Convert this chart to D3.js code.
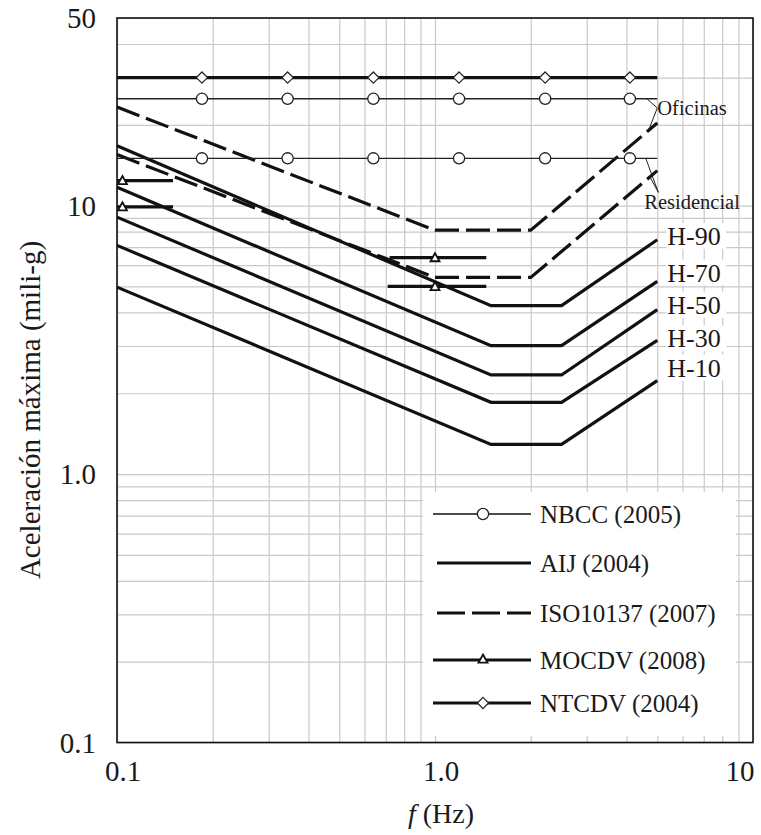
<!DOCTYPE html>
<html>
<head>
<meta charset="utf-8">
<script src="https://cdn.jsdelivr.net/npm/d3@7.9.0/dist/d3.min.js"></script>
<style>
  body { margin: 0; background: #fff; }
  svg { display: block; }
  text { font-family: "Liberation Serif", "Times New Roman", serif; fill: #1a1a1a; }
</style>
</head>
<body>
<svg id="chart" width="761" height="835"></svg>
<script>
// ---- data ----
const xTickValues = [0.1, 1, 10];
const xTickLabels = ['0.1', '1.0', '10'];
const yTickValues = [0.1, 1, 10, 50];
const yTickLabels = ['0.1', '1.0', '10', '50'];

// NBCC (2005)
const nbccFreq = [0.1, 5];
const nbccOficinas = [25, 25];
const nbccResidencial = [15, 15];

// NTCDV (2004)
const ntcdvFreq = [0.1, 5];
const ntcdvAcc = [30, 30];

// markers shared by NBCC / NTCDV
const markerFreq = [0.185, 0.344, 0.64, 1.19, 2.22, 4.1];

// ISO10137 (2007)
const isoFreq = [0.1, 1, 2, 5];
const isoOficinas = [23.3, 8.1, 8.1, 20.3];
const isoResidencial = [15.5, 5.4, 5.4, 13.5];

// AIJ (2004)
const aijLabels = ['H-90', 'H-70', 'H-50', 'H-30', 'H-10'];
const aijFreq = [0.1, 1.5, 2.5, 5];
const aijH90 = [16.7, 4.24, 4.24, 7.46];
const aijH70 = [11.7, 3.01, 3.01, 5.22];
const aijH50 = [9.06, 2.34, 2.34, 4.10];
const aijH30 = [7.11, 1.85, 1.85, 3.15];
const aijH10 = [4.97, 1.29, 1.29, 2.23];

// MOCDV (2008): short horizontal segments
const mocdvFrom = [0.1, 0.1, 0.72, 0.71];
const mocdvTo = [0.15, 0.15, 1.45, 1.45];
const mocdvAcc = [12.4, 9.9, 6.4, 5.0];
const mocdvMark = [0.104, 0.104, 1.0, 1.0];

const legendLabels = ['NBCC (2005)', 'AIJ (2004)', 'ISO10137 (2007)', 'MOCDV (2008)', 'NTCDV (2004)'];

// ---- layout ----
const svg = d3.select('#chart');
const pLeft = 117, pRight = 753, pTop = 18, pBottom = 742.5;

const x = d3.scaleLog().domain([0.1, 10]).range([pLeft, pRight]);
const y = d3.scaleLog().domain([0.1, 50]).range([pBottom, pTop]);

// minor grid values
const gx = [];
[0.1, 1].forEach(d => { for (let k = 1; k <= 9; k++) gx.push(d * k); });
gx.push(10);
const gy = [];
[0.1, 1].forEach(d => { for (let k = 1; k <= 9; k++) gy.push(d * k); });
[10, 20, 30, 40, 50].forEach(d => gy.push(d));

const grid = svg.append('g');
grid.append('g')
  .attr('transform', `translate(0,${pBottom})`)
  .call(d3.axisBottom(x).tickValues(gx).tickSize(-(pBottom - pTop)).tickFormat(''))
  .call(g => g.select('.domain').remove())
  .call(g => g.selectAll('line').attr('stroke', '#c9c9c9').attr('stroke-width', 1.2));
grid.append('g')
  .attr('transform', `translate(${pLeft},0)`)
  .call(d3.axisLeft(y).tickValues(gy).tickSize(-(pRight - pLeft)).tickFormat(''))
  .call(g => g.select('.domain').remove())
  .call(g => g.selectAll('line').attr('stroke', '#c9c9c9').attr('stroke-width', 1.2));

// legend background (covers grid)
svg.append('rect')
  .attr('x', 423).attr('y', 492).attr('width', 313).attr('height', 244)
  .attr('fill', '#fff');

const line = d3.line().x(d => x(d[0])).y(d => y(d[1]));
const pairs = (fs, as) => fs.map((f, i) => [f, as[i]]);

// AIJ
const aijSeries = [aijH90, aijH70, aijH50, aijH30, aijH10];
svg.append('g').selectAll('path')
  .data(aijSeries)
  .join('path')
  .attr('d', d => line(pairs(aijFreq, d)))
  .attr('fill', 'none').attr('stroke', '#111').attr('stroke-width', 3.2)
  .attr('stroke-linejoin', 'miter');

// ISO dashed
svg.append('g').selectAll('path')
  .data([isoOficinas, isoResidencial])
  .join('path')
  .attr('d', d => line(pairs(isoFreq, d)))
  .attr('fill', 'none').attr('stroke', '#111').attr('stroke-width', 3.2)
  .attr('stroke-dasharray', '24 7');

// NBCC thin lines + circles
[nbccOficinas, nbccResidencial].forEach(s => {
  svg.append('path')
    .attr('d', line(pairs(nbccFreq, s)))
    .attr('fill', 'none').attr('stroke', '#222').attr('stroke-width', 1.4);
  svg.append('g').selectAll('circle')
    .data(markerFreq)
    .join('circle')
    .attr('cx', d => x(d)).attr('cy', y(s[0])).attr('r', 5.6)
    .attr('fill', '#fff').attr('stroke', '#222').attr('stroke-width', 1.3);
});

// NTCDV thick line + diamonds
const diamond = (cx, cy, s) => `M${cx},${cy - s}L${cx + s},${cy}L${cx},${cy + s}L${cx - s},${cy}Z`;
svg.append('path')
  .attr('d', line(pairs(ntcdvFreq, ntcdvAcc)))
  .attr('fill', 'none').attr('stroke', '#111').attr('stroke-width', 3.2);
svg.append('g').selectAll('path')
  .data(markerFreq)
  .join('path')
  .attr('d', d => diamond(x(d), y(ntcdvAcc[0]), 5.6))
  .attr('fill', '#fff').attr('stroke', '#222').attr('stroke-width', 1.2);

// MOCDV segments + triangles
const triangle = (cx, cy, s) => `M${cx},${cy - s}L${cx + s},${cy + s * 0.8}L${cx - s},${cy + s * 0.8}Z`;
mocdvAcc.forEach((a, i) => {
  svg.append('path')
    .attr('d', line([[mocdvFrom[i], a], [mocdvTo[i], a]]))
    .attr('stroke', '#111').attr('stroke-width', 3.2);
  svg.append('path')
    .attr('d', triangle(x(mocdvMark[i]), y(a), 4.5))
    .attr('fill', '#fff').attr('stroke', '#111').attr('stroke-width', 1.8);
});

// AIJ labels at the right end
const aijLabelNudge = [-4, -9, -5, -2, -13];
aijSeries.forEach((s, i) => {
  const ty = y(s[s.length - 1]) + aijLabelNudge[i];
  svg.append('rect')
    .attr('x', x(5) + 9).attr('y', ty - 13).attr('width', 60).attr('height', 26)
    .attr('fill', '#fff');
  svg.append('text')
    .attr('x', x(5) + 10).attr('y', ty).attr('dy', '0.35em')
    .attr('font-size', 26)
    .text(aijLabels[i]);
});

// Oficinas / Residencial leaders
const leader = (tip, ends) => ends.forEach(e => {
  svg.append('line')
    .attr('x1', x(e[0])).attr('y1', y(e[1]))
    .attr('x2', x(tip[0])).attr('y2', y(tip[1]))
    .attr('stroke', '#222').attr('stroke-width', 1);
});
leader([5.0, 23.1], [[4.64, 25], [4.72, 19.4]]);
leader([5.04, 11.2], [[4.6, 15], [4.74, 12.8]]);
svg.append('text')
  .attr('x', x(5.0)).attr('y', y(23.1)).attr('dy', '0.35em')
  .attr('font-size', 20.5).text('Oficinas');
svg.append('text')
  .attr('x', x(4.55)).attr('y', y(10.3)).attr('dy', '0.35em')
  .attr('font-size', 20.5).text('Residencial');

// plot frame
svg.append('rect')
  .attr('x', pLeft).attr('y', pTop).attr('width', pRight - pLeft).attr('height', pBottom - pTop)
  .attr('fill', 'none').attr('stroke', '#111').attr('stroke-width', 1.6);

// tick labels
svg.append('g').selectAll('text')
  .data(yTickValues)
  .join('text')
  .attr('x', pLeft - 21).attr('y', d => y(d)).attr('dy', '0.35em')
  .attr('text-anchor', 'end').attr('font-size', 29)
  .text((d, i) => yTickLabels[i]);
svg.append('g').selectAll('text')
  .data(xTickValues)
  .join('text')
  .attr('x', d => Math.min(x(d) + 6, 740)).attr('y', pBottom + 38)
  .attr('text-anchor', 'middle').attr('font-size', 29)
  .text((d, i) => xTickLabels[i]);

// axis titles
svg.append('text')
  .attr('transform', `translate(40,410) rotate(-90)`)
  .attr('text-anchor', 'middle').attr('font-size', 29)
  .text('Aceleración máxima (mili-g)');
const xt = svg.append('text')
  .attr('x', 441).attr('y', 823)
  .attr('text-anchor', 'middle').attr('font-size', 28);
xt.append('tspan').attr('font-style', 'italic').text('f');
xt.append('tspan').text(' (Hz)');

// legend
const lg = svg.append('g');
const legendY = [514, 563, 613, 660, 703];
const sx0 = 433, sx1 = 531, smid = 483;
legendLabels.forEach((lab, i) => {
  const ly = legendY[i];
  const p = lg.append('line')
    .attr('x1', i === 1 || i === 2 ? 437 : sx0).attr('x2', sx1)
    .attr('y1', ly).attr('y2', ly)
    .attr('stroke', '#111').attr('stroke-width', i === 0 ? 1.4 : 3.2);
  if (i === 2) p.attr('stroke-dasharray', '28 7');
  if (i === 0) lg.append('circle').attr('cx', smid).attr('cy', ly).attr('r', 5.6)
    .attr('fill', '#fff').attr('stroke', '#222').attr('stroke-width', 1.3);
  if (i === 3) lg.append('path').attr('d', triangle(smid, ly - 1, 4.5))
    .attr('fill', '#fff').attr('stroke', '#111').attr('stroke-width', 1.8);
  if (i === 4) lg.append('path').attr('d', diamond(smid, ly, 5.6))
    .attr('fill', '#fff').attr('stroke', '#222').attr('stroke-width', 1.2);
  lg.append('text')
    .attr('x', 540).attr('y', ly).attr('dy', '0.35em')
    .attr('font-size', 25).text(lab);
});
</script>
</body>
</html>
